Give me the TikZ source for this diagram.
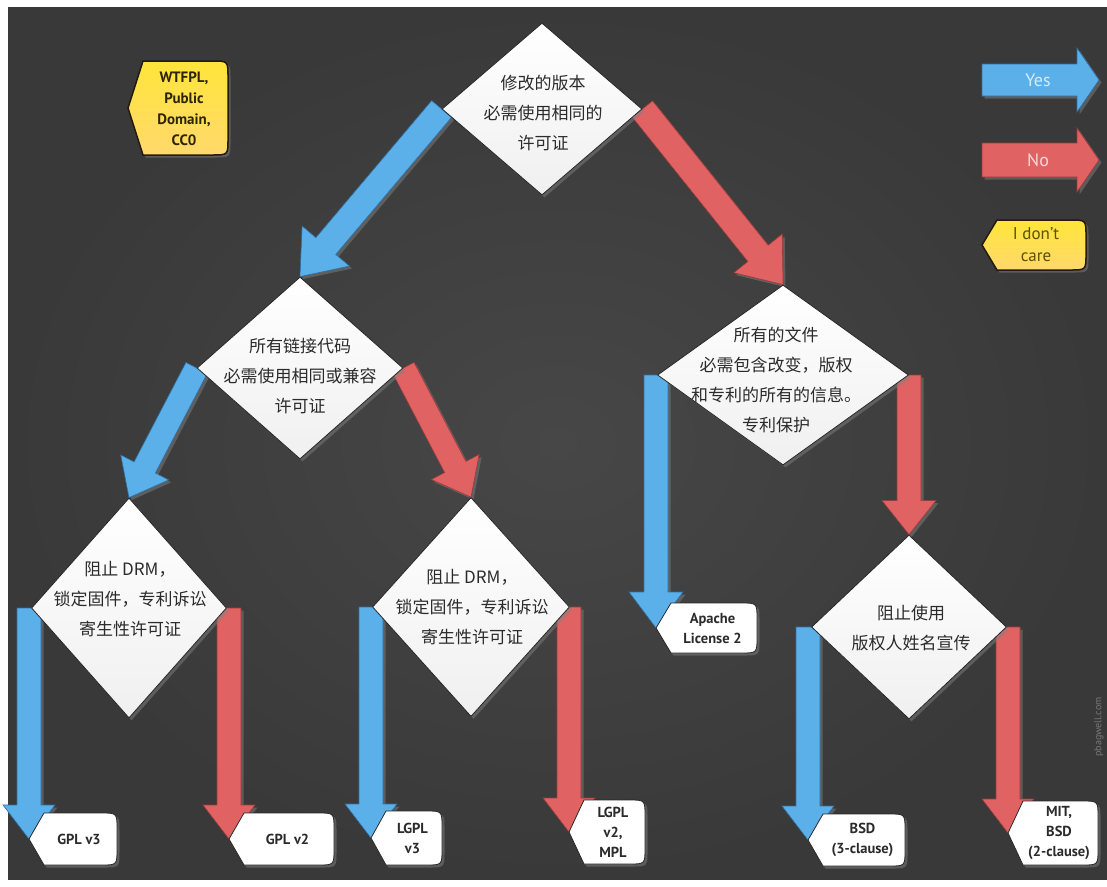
\documentclass[tikz,border=0pt]{standalone}
\usepackage{fontspec}
\setmainfont{PT Sans}
\newfontfamily\cjk{Noto Sans CJK SC}
\usetikzlibrary{calc,shapes.geometric,shadows}
\pgfdeclarelayer{board}
\pgfdeclarelayer{connectors}
\pgfsetlayers{board,connectors,main}

\definecolor{board}{HTML}{3F3F3F}
\definecolor{boardlight}{HTML}{474747}
\definecolor{boarddark}{HTML}{393939}
\definecolor{yesblue}{HTML}{5BB0EA}
\definecolor{yesedge}{HTML}{2F6FA3}
\definecolor{nored}{HTML}{E06262}
\definecolor{noedge}{HTML}{9E3A3A}
\definecolor{tagyellow}{HTML}{FFE53A}
\definecolor{tagyellow2}{HTML}{FFD96C}
\definecolor{ink}{HTML}{2B2B2B}
\definecolor{tagink}{HTML}{2E2500}

% broad arrow: #1 style, #2 from, #3 to, #4 half shaft width, #5 half head width, #6 head length
\newcommand\fatarrow[6]{%
  \coordinate (fa-base) at ($(#3)!#6!(#2)$);
  \path[#1] ($(#2)!#4!90:(#3)$) -- ($(fa-base)!#4!90:(#3)$)
    -- ($(fa-base)!#5!90:(#3)$) -- (#3) -- ($(fa-base)!#5!-90:(#3)$)
    -- ($(fa-base)!#4!-90:(#3)$) -- ($(#2)!#4!-90:(#3)$) -- cycle;}

% tag outline pointing left, rounded on the right:
% #1 style, #2 tip coordinate, #3 tip x, #4 tip y, #5 right x, #6 half height
\newcommand\tagpath[6]{%
  \path[#1] (#2) -- (#3+15,#4-#6) -- (#5-16,#4-#6)
    .. controls (#5,#4-#6) .. (#5,#4-#6+16) -- (#5,#4+#6-16)
    .. controls (#5,#4+#6) .. (#5-16,#4+#6) -- (#3+15,#4+#6) -- cycle;}

% outcome box: #1 name, #2 tip x, #3 tip y, #4 right x, #5 half height, #6 text
\newcommand\leaf[6]{%
  \tagpath{leafbox}{#1-tip}{#2}{#3}{#4}{#5}
  \node[leaftext] (#1) at ({(#2+#4)/2+6},#3) {#6};}

\begin{document}
\begin{tikzpicture}[x=1pt,y=-1pt,
  softshadow/.style={drop shadow={opacity=0.5,shadow xshift=2.5pt,shadow yshift=-2.5pt}},
  yesarrow/.style={fill=yesblue, draw=yesedge, line width=0.6pt, softshadow},
  noarrow/.style={fill=nored, draw=noedge, line width=0.6pt, softshadow},
  decision/.style={diamond, draw=black!85, line width=0.8pt, top color=white,
    bottom color=black!6, inner sep=0pt, softshadow},
  decisiontext/.style={align=center, text=ink, inner sep=0pt,
    font=\cjk\fontsize{17}{30}\selectfont},
  leafbox/.style={fill=white, draw=black!85, line width=0.8pt, softshadow},
  leaftext/.style={align=center, text=ink, inner sep=0pt,
    font=\bfseries\fontsize{14.5}{20}\selectfont},
  tagbox/.style={top color=tagyellow, bottom color=tagyellow2,
    draw=black!80!brown, line width=1.5pt, softshadow},
  legendtext/.style={inner sep=0pt, font=\fontsize{18}{20}\selectfont}]

\useasboundingbox (0,0) rectangle (1107,886);
\begin{pgfonlayer}{board}
\fill[white] (0,0) rectangle (1107,886);
\shade[inner color=boardlight, outer color=boarddark] (8,7) rectangle (1107,879);
\end{pgfonlayer}

% decision nodes
\node[decision, minimum width=200pt, minimum height=172pt] (d1) at (542,109) {};
\node[decision, minimum width=206pt, minimum height=182pt] (d2) at (300,368) {};
\node[decision, minimum width=251pt, minimum height=180pt] (d3) at (783,375) {};
\node[decision, minimum width=195pt, minimum height=220pt] (d4) at (129,608) {};
\node[decision, minimum width=197pt, minimum height=219pt] (d5) at (471,607) {};
\node[decision, minimum width=195pt, minimum height=184pt] (d6) at (909,627) {};

\node[decisiontext] (t1) at (543,113) {修改的版本\\必需使用相同的\\许可证};
\node[decisiontext] (t2) at (300,376) {所有链接代码\\必需使用相同或兼容\\许可证};
\node[decisiontext] (t3) at (776,380) {所有的文件\\必需包含改变，版权\\和专利的所有的信息。\\专利保护};
\node[decisiontext] (t4) at (130,599) {阻止 DRM，\\锁定固件，专利诉讼\\寄生性许可证};
\node[decisiontext] (t5) at (472,607) {阻止 DRM，\\锁定固件，专利诉讼\\寄生性许可证};
\node[decisiontext] (t6) at (911,628) {阻止使用\\版权人姓名宣传};

% arrow tips at the outcome boxes
\coordinate (gpl3-tip)   at (29,839);
\coordinate (gpl2-tip)   at (229,839);
\coordinate (lgpl3-tip)  at (371,838);
\coordinate (lgpl2-tip)  at (569,832);
\coordinate (apache-tip) at (656,628);
\coordinate (bsd3-tip)   at (808,840);
\coordinate (mit-tip)    at (1008,833);

% shaft tops beside the diamond corners
\coordinate (s4l) at (gpl3-tip |- d4.west);
\coordinate (s4r) at (gpl2-tip |- d4.east);
\coordinate (s5l) at (lgpl3-tip |- d5.west);
\coordinate (s5r) at (lgpl2-tip |- d5.east);
\coordinate (s3l) at (apache-tip |- d3.west);
\coordinate (s3r) at (d6.north |- d3.east);
\coordinate (s6l) at (bsd3-tip |- d6.west);
\coordinate (s6r) at (mit-tip |- d6.east);

% connectors, kept under the diamonds
\begin{pgfonlayer}{connectors}
\fatarrow{yesarrow}{d1.west}{d2.north}{13pt}{31pt}{40pt}
\fatarrow{noarrow}{d1.east}{d3.north}{13pt}{31pt}{40pt}
\fatarrow{yesarrow}{d2.west}{d4.north}{12pt}{27pt}{34pt}
\fatarrow{noarrow}{d2.east}{d5.north}{12pt}{27pt}{34pt}
\fatarrow{yesarrow}{s3l}{apache-tip}{12pt}{27pt}{36pt}
\fatarrow{noarrow}{s3r}{d6.north}{12pt}{27pt}{34pt}
\fatarrow{yesarrow}{s4l}{gpl3-tip}{12pt}{26pt}{34pt}
\fatarrow{noarrow}{s4r}{gpl2-tip}{12pt}{26pt}{34pt}
\fatarrow{yesarrow}{s5l}{lgpl3-tip}{12pt}{26pt}{34pt}
\fatarrow{noarrow}{s5r}{lgpl2-tip}{12pt}{26pt}{34pt}
\fatarrow{yesarrow}{s6l}{bsd3-tip}{12pt}{26pt}{34pt}
\fatarrow{noarrow}{s6r}{mit-tip}{12pt}{26pt}{34pt}
\end{pgfonlayer}

% outcomes
\leaf{gpl3}{29}{839}{117}{26}{GPL v3}
\leaf{gpl2}{229}{839}{334}{26}{GPL v2}
\leaf{lgpl3}{371}{838}{442}{27}{LGPL\\v3}
\leaf{lgpl2}{569}{832}{645}{32}{LGPL\\v2,\\MPL}
\leaf{apache}{656}{628}{757}{25}{Apache\\License 2}
\leaf{bsd3}{808}{840}{905}{26}{BSD\\(3-clause)}
\leaf{mit}{1008}{833}{1098}{32}{MIT,\\BSD\\(2-clause)}

% "don't care" outcome
\coordinate (free-tip) at (128,108);
\tagpath{tagbox}{free-tip}{128}{108}{228}{47}
\node[align=center, text=tagink, inner sep=0pt,
  font=\bfseries\fontsize{15}{21}\selectfont] (free) at (184,109)
  {WTFPL,\\Public\\Domain,\\CC0};

% legend
\coordinate (yes-a) at (982,80);
\coordinate (yes-b) at (1099,80);
\coordinate (no-a) at (982,160);
\coordinate (no-b) at (1099,160);
\fatarrow{yesarrow}{yes-a}{yes-b}{16pt}{32pt}{22pt}
\fatarrow{noarrow}{no-a}{no-b}{17pt}{32pt}{22pt}
\node[legendtext, text=yesblue!25!white] (yes) at (1038,80) {Yes};
\node[legendtext, text=nored!25!white] (no) at (1038,160) {No};
\coordinate (care-tip) at (982,245);
\tagpath{tagbox}{care-tip}{982}{245}{1086}{25}
\node[align=center, text=tagink!80!yellow, inner sep=0pt,
  font=\fontsize{17}{22}\selectfont] (care) at (1036,245) {I don't\\care};

% signature along the right edge
\node[rotate=90, text=board!70!white, inner sep=0pt,
  font=\fontsize{10}{10}\selectfont] (mark) at (1099,727) {pbagwell.com};
\end{tikzpicture}
\end{document}
